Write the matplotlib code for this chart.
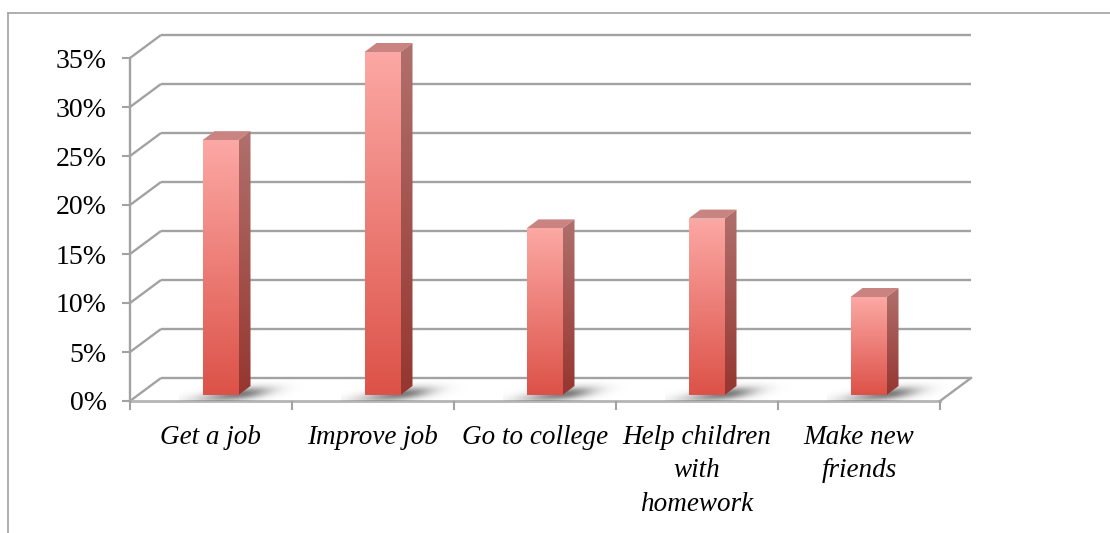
import numpy as np
import matplotlib
matplotlib.use("Agg")
import matplotlib.pyplot as plt
from matplotlib.patches import Polygon
from matplotlib.lines import Line2D

# ---- data -------------------------------------------------------------
categories = ["Get a job", "Improve job", "Go to college",
              "Help children\nwith\nhomework", "Make new\nfriends"]
shares = [26, 35, 17, 18, 10]
y_ticks = [0, 5, 10, 15, 20, 25, 30, 35]
y_tick_labels = [f"{v}%" for v in y_ticks]

# ---- figure / axes ----------------------------------------------------
W, H, DPI = 1110, 533, 100
fig = plt.figure(figsize=(W / DPI, H / DPI), dpi=DPI)
fig.patch.set_facecolor("white")

# front plane of the plot box, in pixels
L_PX, R_PX, B_PX, T_PX = 130, 940, 401, 58
ax = fig.add_axes([L_PX / W, 1 - B_PX / H, (R_PX - L_PX) / W, (B_PX - T_PX) / H])
ax.set_facecolor("none")

n = len(categories)
ymax = y_ticks[-1]
px_x = (R_PX - L_PX) / n      # pixels per category unit
px_y = (B_PX - T_PX) / ymax   # pixels per percent

# oblique depth of the box and of the bars (converted to data units)
DX, DY = 31 / px_x, 23 / px_y
BAR_W = 36 / px_x
BAR_OFF_X, BAR_OFF_Y = 9.5 / px_x, 6 / px_y
BDX, BDY = 12 / px_x, 9 / px_y

GRID = "#a2a2a2"
GLW = 1.7

# ---- walls, floor and grid -------------------------------------------
for y in y_ticks:
    ax.plot([0, DX], [y, y + DY], color=GRID, lw=GLW, clip_on=False,
            zorder=1, solid_capstyle="butt")
    ax.plot([DX, n + DX], [y + DY, y + DY], color=GRID, lw=GLW,
            clip_on=False, zorder=1, solid_capstyle="butt")
# floor front edge and right edge
ax.plot([0, n], [0, 0], color="#b4b4b4", lw=2.0, clip_on=False, zorder=1)
ax.plot([n, n + DX], [0, DY], color=GRID, lw=GLW, clip_on=False, zorder=1)
# value axis line
ax.plot([0, 0], [0, ymax], color=GRID, lw=GLW, clip_on=False, zorder=1)

floor = Polygon([(0, 0), (n, 0), (n + DX, DY), (DX, DY)],
                facecolor="none", edgecolor="none")
ax.add_patch(floor)


def gradient(top_rgb, bottom_rgb, steps=128):
    t = np.linspace(0, 1, steps)[:, None]
    top = np.array(top_rgb, float) / 255
    bot = np.array(bottom_rgb, float) / 255
    return (top * (1 - t) + bot * t)[:, None, :]


FRONT_TOP, FRONT_BOT = (252, 168, 164), (220, 82, 72)
SIDE_TOP, SIDE_BOT = (176, 112, 108), (150, 54, 48)
TOP_FACE = "#c98482"

# ---- bars -------------------------------------------------------------
for i, v in enumerate(shares):
    x0 = i + 0.5 - BAR_W / 2 + BAR_OFF_X
    x1 = x0 + BAR_W
    y0 = BAR_OFF_Y
    y1 = v + BAR_OFF_Y

    # soft floor shadow trailing to the back right of the bar
    xs = np.linspace(-60, 75, 190)
    ys = np.linspace(-10, 16, 70)
    gx, gy = np.meshgrid(xs, ys)
    sx = np.where(gx < 0, 28, 20)
    alpha = 0.8 * np.exp(-0.5 * ((gx - 2) / sx) ** 2
                         - 0.5 * ((gy - 0.12 * gx - 0.8) / 4.2) ** 2)
    shadow = np.zeros((len(ys), len(xs), 4))
    shadow[..., :3] = 0.36
    shadow[..., 3] = alpha
    im = ax.imshow(shadow, origin="lower", aspect="auto", zorder=2,
                   extent=(x1 + xs[0] / px_x, x1 + xs[-1] / px_x,
                           y0 + ys[0] / px_y, y0 + ys[-1] / px_y),
                   interpolation="bilinear")
    im.set_clip_path(floor)
    im.set_clip_box(fig.bbox)

    front = Polygon([(x0, y0), (x1, y0), (x1, y1), (x0, y1)],
                    facecolor="none", edgecolor="none")
    side = Polygon([(x1, y0), (x1 + BDX, y0 + BDY), (x1 + BDX, y1 + BDY),
                    (x1, y1)], facecolor="none", edgecolor="none")
    top = Polygon([(x0, y1), (x1, y1), (x1 + BDX, y1 + BDY),
                   (x0 + BDX, y1 + BDY)], facecolor=TOP_FACE,
                  edgecolor="none", zorder=4, clip_on=False)
    ax.add_patch(front)
    ax.add_patch(side)
    ax.add_patch(top)

    imf = ax.imshow(gradient(FRONT_TOP, FRONT_BOT), origin="upper",
                    aspect="auto", extent=(x0, x1, y0, y1), zorder=4,
                    interpolation="bilinear")
    imf.set_clip_path(front)
    imf.set_clip_box(fig.bbox)

    ims = ax.imshow(gradient(SIDE_TOP, SIDE_BOT), origin="upper",
                    aspect="auto", extent=(x1, x1 + BDX, y0, y1 + BDY),
                    zorder=4, interpolation="bilinear")
    ims.set_clip_path(side)
    ims.set_clip_box(fig.bbox)

ax.set_xlim(0, n)
ax.set_ylim(0, ymax)
ax.set_aspect("auto")

for s in ax.spines.values():
    s.set_visible(False)

# ---- ticks and labels -------------------------------------------------
ax.set_yticks(y_ticks, y_tick_labels)
ax.tick_params(axis="y", length=5.8, width=1.5, color=GRID, pad=11,
               labelsize=20, labelcolor="black")
for lab in ax.get_yticklabels():
    lab.set_fontfamily("Liberation Serif")

ax.set_xticks(np.arange(n + 1))
ax.set_xticklabels([""] * (n + 1))
ax.tick_params(axis="x", which="major", length=6.5, width=1.5, color=GRID)
ax.set_xticks(np.arange(n) + 0.5, minor=True)
ax.set_xticklabels(categories, minor=True)
ax.tick_params(axis="x", which="minor", length=0, pad=17, labelsize=19.5,
               labelcolor="black")
for lab in ax.get_xticklabels(minor=True):
    lab.set_fontfamily("Liberation Serif")
    lab.set_fontstyle("italic")
    lab.set_linespacing(1.45)

# ---- chart frame ------------------------------------------------------
fx, fy = 8 / W, 1 - 13 / H
fig.add_artist(Line2D([fx, 1], [fy, fy], transform=fig.transFigure,
                      color="#a8a8a8", lw=1.3))
fig.add_artist(Line2D([fx, fx], [0, fy], transform=fig.transFigure,
                      color="#a8a8a8", lw=1.3))

fig.savefig("out.png", dpi=DPI, facecolor="white")
